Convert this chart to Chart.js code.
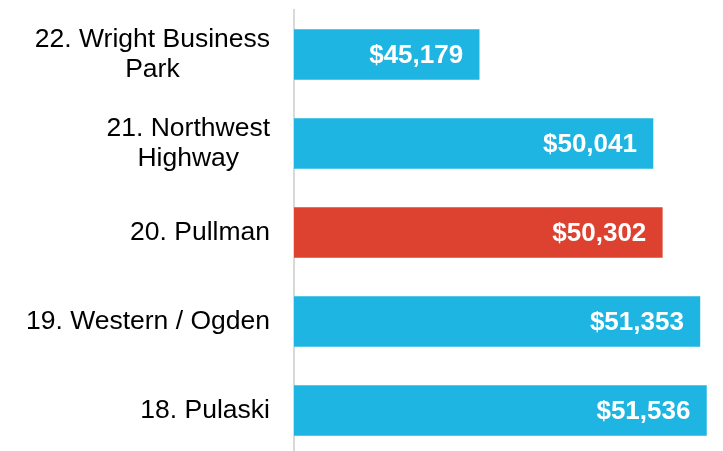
<!DOCTYPE html>
<html>
<head>
<meta charset="utf-8">
<script src="https://cdn.jsdelivr.net/npm/chart.js@4/dist/chart.umd.min.js"></script>
<style>
  html, body { margin: 0; padding: 0; background: #fff; overflow: hidden; }
  .chart_box { width: 723px; height: 455px; position: relative; }
</style>
</head>
<body>
<div class="chart_box"><canvas id="chart"></canvas></div>
<script>
// datos
const categories = [
  ['22. Wright Business', 'Park'],
  ['21. Northwest', 'Highway'],
  ['20. Pullman'],
  ['19. Western / Ogden'],
  ['18. Pulaski']
];
const incomes = [45179, 50041, 50302, 51353, 51536];
const highlighted = '20. Pullman';
const axisMin = 40000;
const axisMax = 52000;

const BLUE = '#1fb5e2';
const RED = '#dd4130';
const barColors = categories.map(c => c[0] === highlighted ? RED : BLUE);

const labelFont = '26.5px "Liberation Sans", Arial, sans-serif';
const valueFont = 'bold 26px "Liberation Sans", Arial, sans-serif';

// etiquetas de categoria: bloque alineado a la derecha, lineas centradas
const categoryLabels = {
  id: 'categoryLabels',
  afterDraw(chart) {
    const ctx = chart.ctx;
    const yScale = chart.scales.y;
    const rightEdge = chart.chartArea.left - 24;
    const lineH = 30;
    ctx.save();
    ctx.font = labelFont;
    ctx.fillStyle = '#000';
    ctx.textAlign = 'center';
    ctx.textBaseline = 'middle';
    categories.forEach((lines, i) => {
      const yc = yScale.getPixelForValue(i);
      const w = Math.max(...lines.map(l => ctx.measureText(l).width));
      const x = rightEdge - w / 2;
      const y0 = yc - (lines.length - 1) * lineH / 2;
      lines.forEach((l, k) => ctx.fillText(l, x, y0 + k * lineH));
    });
    ctx.restore();
  }
};

// valores dentro de la barra
const valueLabels = {
  id: 'valueLabels',
  afterDatasetsDraw(chart) {
    const ctx = chart.ctx;
    const meta = chart.getDatasetMeta(0);
    ctx.save();
    ctx.font = valueFont;
    ctx.fillStyle = '#fff';
    ctx.textAlign = 'right';
    ctx.textBaseline = 'middle';
    meta.data.forEach((bar, i) => {
      const txt = '$' + incomes[i].toLocaleString('en-US');
      ctx.fillText(txt, bar.x - 16, bar.y + 1);
    });
    ctx.restore();
  }
};

const ctx = document.getElementById('chart').getContext('2d');
new Chart(ctx, {
  type: 'bar',
  data: {
    labels: categories,
    datasets: [{
      data: incomes,
      backgroundColor: barColors,
      borderWidth: 0,
      barThickness: 50
    }]
  },
  options: {
    indexAxis: 'y',
    responsive: true,
    maintainAspectRatio: false,
    animation: false,
    layout: { padding: { top: 10, right: 0, bottom: 0, left: 0 } },
    plugins: { legend: { display: false }, tooltip: { enabled: false } },
    scales: {
      x: { display: false, min: axisMin, max: axisMax },
      y: {
        display: true,
        ticks: { display: false },
        grid: { display: false },
        border: { display: true, color: '#d9d9d9', width: 2 },
        afterFit(scale) { scale.width = 294; }
      }
    }
  },
  plugins: [categoryLabels, valueLabels]
});
</script>
</body>
</html>
